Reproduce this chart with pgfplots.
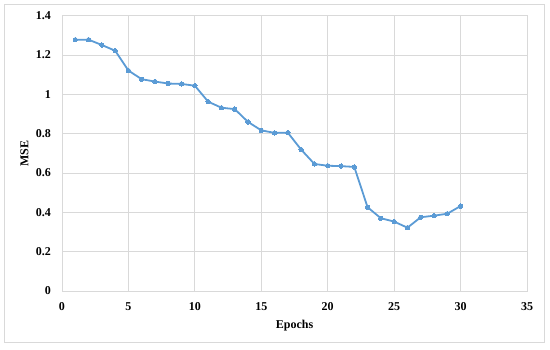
\documentclass[border=0pt]{standalone}
\usepackage{pgfplots}
\pgfplotsset{compat=1.18}
\usepackage{fontspec}
\setmainfont{Liberation Serif}
\definecolor{lineBlue}{HTML}{5B9BD5}
\definecolor{gridGray}{HTML}{D9D9D9}
\definecolor{frameGray}{HTML}{D9D9D9}

\begin{document}
\begin{tikzpicture}
\useasboundingbox (0pt,0pt) rectangle (550pt,349pt);
\draw[frameGray,line width=0.8pt] (4pt,7pt) rectangle (544pt,345pt);
\begin{axis}[
  at={(62pt,58pt)}, anchor=south west,
  scale only axis,
  width=465pt, height=275.3pt,
  xmin=0, xmax=35, ymin=0, ymax=1.4,
  xtick={0,5,...,35},
  ytick={0,0.2,0.4,0.6,0.8,1,1.2,1.4},
  yticklabels={0,0.2,0.4,0.6,0.8,1,1.2,1.4},
  xticklabels={0,5,10,15,20,25,30,35},
  major tick length=0pt,
  grid=major,
  grid style={draw=gridGray,line width=0.8pt},
  axis line style={draw=gridGray,line width=0.8pt},
  tick label style={font=\fontsize{12}{14}\selectfont\bfseries},
  xticklabel style={anchor=north,inner sep=0pt,yshift=-11.5pt},
  yticklabel style={anchor=east,inner sep=0pt,xshift=-11pt},
  xlabel={Epochs},
  ylabel={MSE},
  label style={font=\fontsize{12}{14}\selectfont\bfseries},
  xlabel style={at={(axis description cs:0.5,0)},anchor=north,inner sep=0pt,yshift=-28.5pt},
  % the label is rotated, so this shift moves it to the left
  ylabel style={at={(axis description cs:0,0.5)},anchor=center,inner sep=0pt,yshift=37.5pt},
  clip=false
]
\addplot[color=lineBlue,line width=1.8pt,mark=*,mark size=2.2pt,mark options={fill=lineBlue,draw=lineBlue,line width=0pt}]
coordinates {
(1,1.278) (2,1.278) (3,1.251) (4,1.222) (5,1.121) (6,1.077) (7,1.065) (8,1.055) (9,1.053) (10,1.044)
(11,0.963) (12,0.932) (13,0.925) (14,0.860) (15,0.817) (16,0.804) (17,0.805) (18,0.719) (19,0.646) (20,0.637)
(21,0.635) (22,0.631) (23,0.426) (24,0.370) (25,0.353) (26,0.322) (27,0.375) (28,0.383) (29,0.393) (30,0.432)
};
\end{axis}
\end{tikzpicture}
\end{document}
